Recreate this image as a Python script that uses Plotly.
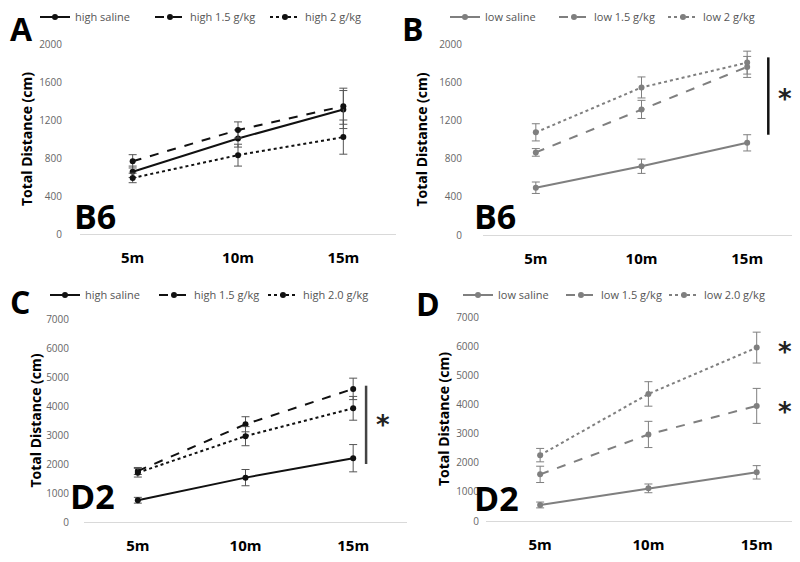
import plotly.graph_objects as go

times = ["5m", "10m", "15m"]

# Panel A: B6 high
a_saline = [655, 1005, 1310]
a_saline_err = [60, 90, 200]
a_15 = [765, 1095, 1345]
a_15_err = [70, 85, 190]
a_2 = [590, 830, 1020]
a_2_err = [50, 115, 180]

# Panel B: B6 low
b_saline = [495, 720, 965]
b_saline_err = [60, 75, 85]
b_15 = [865, 1315, 1760]
b_15_err = [40, 95, 110]
b_2 = [1075, 1545, 1805]
b_2_err = [90, 110, 120]

# Panel C: D2 high
c_saline = [750, 1530, 2200]
c_saline_err = [100, 280, 470]
c_15 = [1760, 3370, 4590]
c_15_err = [120, 260, 370]
c_2 = [1700, 2960, 3920]
c_2_err = [150, 330, 410]

# Panel D: D2 low
d_saline = [550, 1120, 1670]
d_saline_err = [100, 150, 230]
d_15 = [1600, 2970, 3950]
d_15_err = [280, 450, 600]
d_2 = [2260, 4360, 5950]
d_2_err = [230, 420, 530]

legend_a = ["high saline", "high 1.5 g/kg", "high 2 g/kg"]
legend_b = ["low saline", "low 1.5 g/kg", "low 2 g/kg"]
legend_c = ["high saline", "high 1.5 g/kg", "high 2.0 g/kg"]
legend_d = ["low saline", "low 1.5 g/kg", "low 2.0 g/kg"]

BLACK = "#111111"
GRAY = "#7f7f7f"
dashes = ["solid", "dash", "dot"]

# page body margin compensation
OFF = 8
W = 792.0
H = 554.0
def px(X):
    return (X - OFF) / W
def py(Y):
    return 1 - (Y - OFF) / H

fig = go.Figure()

panels = [
    ("x", "y", "legend", BLACK, legend_a, [(a_saline, a_saline_err), (a_15, a_15_err), (a_2, a_2_err)]),
    ("x2", "y2", "legend2", GRAY, legend_b, [(b_saline, b_saline_err), (b_15, b_15_err), (b_2, b_2_err)]),
    ("x3", "y3", "legend3", BLACK, legend_c, [(c_saline, c_saline_err), (c_15, c_15_err), (c_2, c_2_err)]),
    ("x4", "y4", "legend4", GRAY, legend_d, [(d_saline, d_saline_err), (d_15, d_15_err), (d_2, d_2_err)]),
]

for xa, ya, lg, col, names, series in panels:
    errcol = "#555555" if col == BLACK else GRAY
    for (vals, errs), name, dash in zip(series, names, dashes):
        fig.add_trace(go.Scatter(
            x=times, y=vals, name=name, mode="lines+markers",
            xaxis=xa, yaxis=ya, legend=lg,
            line=dict(color=col, width=2, dash=dash),
            marker=dict(color=col, size=6),
            error_y=dict(type="data", array=errs, visible=True,
                         color=errcol, thickness=1, width=4),
        ))

font_family = "Open Sans"
ytick_font = dict(family=font_family, size=10, color="#666666")
xtick_font = dict(family=font_family, size=15, color="#000000", weight=700)
ytitle_font = dict(family=font_family, size=14, color="#000000", weight=700)

def xax(x0, x1, rng, anchor):
    return dict(domain=[px(x0), min(px(x1), 1.0)], range=rng, type="category",
                showgrid=False, anchor=anchor, automargin=False,
                showline=True, linecolor="#d9d9d9", linewidth=1, ticks="",
                tickfont=xtick_font, ticklabelstandoff=10, zeroline=False,
                fixedrange=True)

def yax(ybot, ytop, rng, dtick, standoff, tstand, anchor):
    return dict(domain=[py(ybot), py(ytop)], range=rng, dtick=dtick, showgrid=False,
                anchor=anchor, automargin=False,
                showline=False, zeroline=False, ticks="", tickfont=ytick_font,
                ticklabelstandoff=standoff,
                title=dict(text="Total Distance (cm)", font=ytitle_font,
                           standoff=tstand))

fig.update_layout(
    template="none",
    width=int(W), height=int(H),
    margin=dict(l=0, r=0, t=0, b=0, autoexpand=False),
    paper_bgcolor="white", plot_bgcolor="white",
    showlegend=True,
    xaxis=xax(80, 396, [-0.5, 2.5], "y"),
    yaxis=yax(234, 44, [0, 2000], 400, 17, 3, "x"),
    xaxis2=xax(483, 800, [-0.5, 2.5], "y2"),
    yaxis2=yax(235, 44, [0, 2000], 400, 20, 8, "x2"),
    xaxis3=xax(84, 407, [-0.5, 2.5], "y3"),
    yaxis3=yax(522, 319, [0, 7000], 1000, 14, 1, "x3"),
    xaxis4=xax(486, 800, [-0.5, 2.4], "y4"),
    yaxis4=yax(521, 317, [0, 7000], 1000, 6, 3, "x4"),
)

legend_common = dict(orientation="h", xanchor="left", yanchor="middle",
                     font=dict(family=font_family, size=11, color="#555555"),
                     bgcolor="rgba(0,0,0,0)", entrywidthmode="pixels",
                     itemclick=False)
fig.update_layout(
    legend=dict(legend_common, x=px(35), y=py(17), entrywidth=70),
    legend2=dict(legend_common, x=px(445), y=py(17), entrywidth=64),
    legend3=dict(legend_common, x=px(45), y=py(295), entrywidth=64),
    legend4=dict(legend_common, x=px(458), y=py(295), entrywidth=58),
)

# Significance bars
fig.add_shape(type="line", xref="x2", yref="y2", x0=2.2, x1=2.2, y0=1050, y1=1860,
              line=dict(color="#111111", width=2.5))
fig.add_shape(type="line", xref="x3", yref="y3", x0=2.12, x1=2.12, y0=2000, y1=4700,
              line=dict(color="#444444", width=2.5))

star = dict(showarrow=False, font=dict(family="DejaVu Sans", size=26, color="#222222", weight=700))
fig.add_annotation(text="*", xref="x2", yref="y2", x=2.36, y=1420, **star)
fig.add_annotation(text="*", xref="x3", yref="y3", x=2.28, y=3350, **star)
fig.add_annotation(text="*", xref="x4", yref="y4", x=2.26, y=5800, **star)
fig.add_annotation(text="*", xref="x4", yref="y4", x=2.26, y=3750, **star)

big = dict(family=font_family, size=32, color="#000000", weight=700)
def label(text, x_px, y_px, size=32):
    fig.add_annotation(text=text, xref="paper", yref="paper",
                       x=max(px(x_px), 0), y=min(py(y_px), 1.0), xanchor="left",
                       yanchor="middle", showarrow=False, font=dict(big, size=size))

label("A", 2, 29)
label("B", 400, 29)
label("C", 6, 301)
label("D", 414, 303)
label("B6", 72, 216, 34)
label("B6", 472, 216, 34)
label("D2", 68, 496, 34)
label("D2", 472, 498, 34)

fig.write_html("out.html")
